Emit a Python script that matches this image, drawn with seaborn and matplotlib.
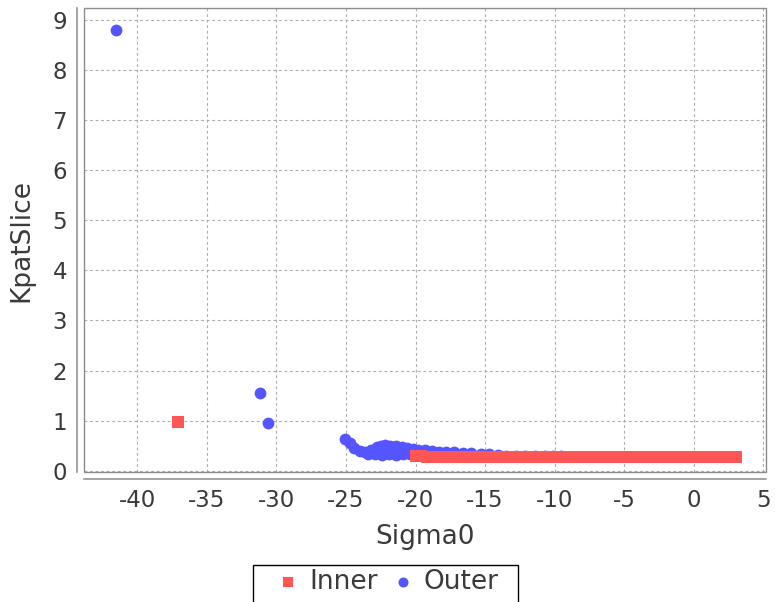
import matplotlib
matplotlib.use("Agg")
import matplotlib.pyplot as plt
from matplotlib.patches import Rectangle
import pandas as pd
import seaborn as sns

# Outer series: Sigma0 vs KpatSlice
outer_sigma0 = [
    -41.5, -31.2, -30.6,
    -25.05, -24.7, -24.4, -24.0, -23.6, -23.2, -22.8, -22.5, -22.2, -21.8,
    -21.4, -21.0, -20.6, -20.2,
    -23.4, -22.9, -22.4, -21.9, -21.4, -20.9, -20.4,
    -22.6, -22.0, -21.4, -20.8,
    -19.8, -19.3, -18.8, -18.3, -17.8, -17.2, -16.6, -16.0, -15.3, -14.7,
    -14.1, -13.5, -12.8, -12.1, -11.4, -10.7, -10.1, -9.55,
]
outer_kpat = [
    8.80, 1.55, 0.95,
    0.64, 0.55, 0.45, 0.40, 0.38, 0.42, 0.48, 0.50, 0.51, 0.50,
    0.49, 0.47, 0.45, 0.44,
    0.34, 0.33, 0.32, 0.33, 0.32, 0.33, 0.34,
    0.41, 0.42, 0.40, 0.39,
    0.42, 0.41, 0.40, 0.38, 0.37, 0.37, 0.36, 0.35, 0.33, 0.33,
    0.31, 0.29, 0.29, 0.29, 0.29, 0.29, 0.29, 0.29,
]

# Inner series: Sigma0 vs KpatSlice
inner_sigma0 = [
    -37.1,
    -20.0, -19.6, -19.2, -18.7, -18.2, -17.7, -17.2, -16.7, -16.2, -15.7,
    -15.2, -14.7, -14.2, -13.7, -13.2, -12.7, -12.2, -11.7, -11.2, -10.7,
    -10.2, -9.7, -9.2, -8.7, -8.2, -7.7, -7.2, -6.7, -6.2, -5.7,
    -5.2, -4.7, -4.2, -3.7, -3.2, -2.7, -2.2, -1.7, -1.2, -0.7,
    -0.2, 0.3, 0.8, 1.3, 1.8, 2.3, 2.7, 3.0,
]
inner_kpat = [
    0.97,
    0.29, 0.29, 0.28, 0.27, 0.27, 0.27, 0.27, 0.27, 0.27, 0.27,
    0.27, 0.27, 0.27, 0.27, 0.27, 0.27, 0.27, 0.27, 0.27, 0.27,
    0.27, 0.27, 0.27, 0.27, 0.27, 0.27, 0.27, 0.27, 0.27, 0.27,
    0.27, 0.27, 0.27, 0.27, 0.27, 0.27, 0.27, 0.27, 0.27, 0.27,
    0.27, 0.27, 0.27, 0.27, 0.27, 0.27, 0.27, 0.27,
]

series_names = ["Inner", "Outer"]
series_colors = ["#FF5555", "#5555FF"]
x_ticks = [-40, -35, -30, -25, -20, -15, -10, -5, 0, 5]
y_ticks = [0, 1, 2, 3, 4, 5, 6, 7, 8, 9]

sns.set_style("white")
plt.rcParams["font.family"] = ["DejaVu Sans"]
plt.rcParams["axes.unicode_minus"] = False

text_color = "#3a3a3a"
W, H = 775, 602
fig = plt.figure(figsize=(W / 100, H / 100), dpi=100)
left, right, top, bottom = 84, 765.7, 8.3, 472.3
ax = fig.add_axes([left / W, 1 - bottom / H, (right - left) / W, (bottom - top) / H])

outer_df = pd.DataFrame({"Sigma0": outer_sigma0, "KpatSlice": outer_kpat})
inner_df = pd.DataFrame({"Sigma0": inner_sigma0, "KpatSlice": inner_kpat})

# Outer first so the Inner band sits on top of it
sns.scatterplot(data=outer_df, x="Sigma0", y="KpatSlice", color=series_colors[1],
                marker="o", s=72, linewidth=0, label=series_names[1], ax=ax, zorder=3)
sns.scatterplot(data=inner_df, x="Sigma0", y="KpatSlice", color=series_colors[0],
                marker="s", s=66, linewidth=0, label=series_names[0], ax=ax, zorder=4)

ax.set_xlim(-43.83, 5.17)
ax.set_ylim(-0.03, 9.23)
ax.set_xticks(x_ticks)
ax.set_yticks(y_ticks)

ax.set_axisbelow(True)
ax.grid(True, color="#ababab", linestyle=(0, (2.5, 2.5)), linewidth=0.8)

frame_color = "#8c8c8c"
for side in ("top", "right"):
    ax.spines[side].set_visible(False)
for side in ("left", "bottom"):
    ax.spines[side].set_position(("outward", 4.8))
    ax.spines[side].set_color(frame_color)
    ax.spines[side].set_linewidth(1.1)
ax.add_patch(Rectangle((0, 0), 1, 1, transform=ax.transAxes, fill=False,
                       edgecolor=frame_color, linewidth=1.0, clip_on=False, zorder=5))

ax.tick_params(direction="out", length=2.5, width=0.8, color=frame_color,
               labelsize=16.5, labelcolor=text_color, pad=5)
ax.set_xlabel("Sigma0", fontsize=19, color=text_color, labelpad=8.5)
ax.set_ylabel("KpatSlice", fontsize=19, color=text_color, labelpad=13)

# Legend entries without their own frame; a box is drawn around them
handles, labels = ax.get_legend_handles_labels()
order = [labels.index(n) for n in series_names]
ax.get_legend().remove()
leg = fig.legend([handles[i] for i in order], [labels[i] for i in order],
                 loc="center", bbox_to_anchor=(388 / W, 1 - 582 / H), ncol=2,
                 frameon=False, fontsize=19,
                 handletextpad=0.4, columnspacing=0.55, handlelength=0.8,
                 borderpad=0, borderaxespad=0, markerscale=0.85,
                 labelcolor=text_color)
fig.patches.append(Rectangle((253 / W, 1 - 615 / H), 265 / W, 50 / H,
                             transform=fig.transFigure, fill=False,
                             edgecolor="black", linewidth=1.0))

fig.savefig("out.png", dpi=100, facecolor="white")
